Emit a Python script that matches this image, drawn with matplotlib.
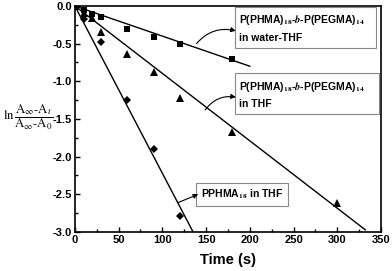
import matplotlib
matplotlib.use("Agg")
import matplotlib.pyplot as plt
import numpy as np

# Data
t_water = [0, 10, 20, 30, 60, 90, 120, 180]
y_water = [0.0, -0.06, -0.11, -0.15, -0.30, -0.41, -0.50, -0.71]
t_thf = [0, 10, 20, 30, 60, 90, 120, 180, 300]
y_thf = [0.0, -0.10, -0.16, -0.35, -0.64, -0.87, -1.22, -1.67, -2.62]
t_pphma = [0, 10, 30, 60, 90, 120]
y_pphma = [0.0, -0.17, -0.48, -1.25, -1.90, -2.79]

# fitted lines (slope, end time)
fit_water = (-0.0040, 200)
fit_thf = (-0.00895, 332)
fit_pphma = (-0.0222, 135)

xticks = [0, 50, 100, 150, 200, 250, 300, 350]
yticks = [0.0, -0.5, -1.0, -1.5, -2.0, -2.5, -3.0]

plt.rcParams['font.family'] = ['Liberation Sans', 'DejaVu Sans']
plt.rcParams['mathtext.fontset'] = 'stix'

fig = plt.figure(figsize=(3.92, 2.71), dpi=100)
ax = fig.add_axes([0.191, 0.144, 0.781, 0.834])

ax.plot(t_water, y_water, 's', color='black', ms=4.6, markeredgewidth=0)
ax.plot(t_thf, y_thf, '^', color='black', ms=5.2, markeredgewidth=0)
ax.plot(t_pphma, y_pphma, 'D', color='black', ms=4.2, markeredgewidth=0)

for slope, tend in (fit_water, fit_thf, fit_pphma):
    xs = np.array([0, tend])
    ax.plot(xs, slope * xs, color='black', lw=1.0)

ax.set_xlim(0, 350)
ax.set_ylim(-3.0, 0.0)
ax.set_xticks(xticks)
ax.set_yticks(yticks)
ax.set_xticklabels([str(v) for v in xticks], fontweight='bold', fontsize=8)
ax.set_yticklabels([f"{v:.1f}" for v in yticks], fontweight='bold', fontsize=8)
ax.set_xticks(np.arange(25, 350, 50), minor=True)
ax.set_yticks(np.arange(-2.75, 0, 0.5), minor=True)
ax.tick_params(which='both', direction='in', width=1.0)
ax.tick_params(which='major', length=3.5, pad=2)
ax.tick_params(which='minor', length=2)
for s in ax.spines.values():
    s.set_linewidth(1.2)

ax.set_xlabel('Time (s)', fontweight='bold', fontsize=10.5, labelpad=6)
fig.text(0.008, 0.568,
         r'$\mathrm{ln}\,\dfrac{\mathrm{A}_{\infty}\mathrm{\text{-}A}_{t}}{\mathrm{A}_{\infty}\mathrm{\text{-}A}_{0}}$',
         fontsize=9.2, va='center', ha='left')

box = dict(boxstyle='square,pad=0.45', fc='white', ec='#888888', lw=0.8)
arrow = dict(arrowstyle='-|>', color='black', lw=0.8, mutation_scale=7,
             connectionstyle='arc3,rad=-0.3', shrinkA=0, shrinkB=0)

ax.text(188, -0.10, 'P(PHMA)$_{\\mathbf{18}}$-$\\boldsymbol{b}$-P(PEGMA)$_{\\mathbf{14}}$   \nin water-THF',
        fontsize=7.5, fontweight='bold', va='top', ha='left', bbox=box,
        linespacing=1.7)
ax.annotate('', xy=(184, -0.33), xytext=(139, -0.50), arrowprops=arrow)

ax.text(188, -0.98, 'P(PHMA)$_{\\mathbf{18}}$-$\\boldsymbol{b}$-P(PEGMA)$_{\\mathbf{14}}$    \nin THF',
        fontsize=7.5, fontweight='bold', va='top', ha='left', bbox=box,
        linespacing=1.7)
ax.annotate('', xy=(184, -1.21), xytext=(149, -1.38), arrowprops=arrow)

ax.text(144, -2.50, 'PPHMA$_{\\mathbf{18}}$ in THF', fontsize=7.5, fontweight='bold',
        va='center', ha='left', bbox=box)
ax.annotate('', xy=(141, -2.50), xytext=(118, -2.61),
            arrowprops=dict(arrowstyle='-|>', color='black', lw=0.8, mutation_scale=7,
                            shrinkA=0, shrinkB=0))

fig.savefig('out.png', dpi=100)
